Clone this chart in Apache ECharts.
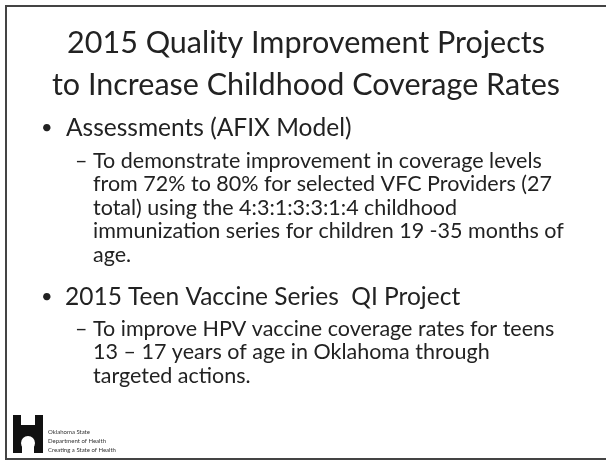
<!DOCTYPE html>
<html>
<head>
<meta charset="utf-8">
<script src="https://cdn.jsdelivr.net/npm/echarts@6/dist/echarts.min.js"></script>
<style>
  html, body { margin: 0; padding: 0; background: #fff; }
  #slide { width: 606px; height: 461px; }
</style>
</head>
<body>
<div id="slide"></div>
<script>
// slide text
const titleLines = [
  '2015 Quality Improvement Projects',
  'to Increase Childhood Coverage Rates'
];
const bulletHeads = [
  'Assessments (AFIX Model)',
  '2015 Teen Vaccine Series  QI Project'
];
const bullet1Lines = [
  '\u2013 To demonstrate improvement in coverage levels',
  'from 72% to 80% for selected VFC Providers (27',
  'total) using the 4:3:1:3:3:1:4 childhood',
  'immunization series for children 19 -35 months of',
  'age.'
];
const bullet2Lines = [
  '\u2013 To improve HPV vaccine coverage rates for teens',
  '13 \u2013 17 years of age in Oklahoma through',
  'targeted actions.'
];
const logoLines = ['Oklahoma State', 'Department of Health', 'Creating a State of Health'];

const FONT = 'Lato, "Open Sans", sans-serif';
const INK = '#222';

// 幻灯片实例
const chartInstance = echarts.init(document.getElementById('slide'));

function txt(x, y, text, size, color, align) {
  return {
    type: 'text',
    x: x,
    y: y,
    style: {
      text: text,
      fontFamily: FONT,
      fontSize: size,
      fill: color,
      align: align || 'left',
      verticalAlign: 'middle'
    }
  };
}

const elements = [];

// frame: top, left, bottom
elements.push({ type: 'line', shape: { x1: 5, y1: 6, x2: 606, y2: 6 }, style: { stroke: '#444', lineWidth: 2 } });
elements.push({ type: 'line', shape: { x1: 6, y1: 5, x2: 6, y2: 460 }, style: { stroke: '#444', lineWidth: 2 } });
elements.push({ type: 'line', shape: { x1: 5, y1: 459, x2: 606, y2: 459 }, style: { stroke: '#444', lineWidth: 2 } });

// title
titleLines.forEach(function (line, i) {
  elements.push(txt(306, 43.5 + i * 41.5, line, 30.5, INK, 'center'));
});

// bullet 1
elements.push(txt(41, 128, '\u2022', 20, INK));
elements.push(txt(66, 128, bulletHeads[0], 24.5, INK));
bullet1Lines.forEach(function (line, i) {
  elements.push(txt(i === 0 ? 75 : 93, 161 + i * 23.5, line, 21.5, INK));
});

// bullet 2
elements.push(txt(41, 297, '\u2022', 20, INK));
elements.push(txt(65, 297, bulletHeads[1], 24.5, INK));
bullet2Lines.forEach(function (line, i) {
  elements.push(txt(i === 0 ? 75 : 93, 329 + i * 23.5, line, 21.5, INK));
});

// logo
elements.push({ type: 'rect', shape: { x: 13, y: 415, width: 30, height: 38 }, style: { fill: '#111' } });
elements.push({ type: 'rect', shape: { x: 21, y: 414, width: 14, height: 11 }, style: { fill: '#fff' } });
elements.push({ type: 'circle', shape: { cx: 28, cy: 443, r: 7 }, style: { fill: '#fff' } });
elements.push({ type: 'rect', shape: { x: 22, y: 444, width: 12, height: 9 }, style: { fill: '#fff' } });
elements.push({ type: 'circle', shape: { cx: 28, cy: 434, r: 2 }, style: { fill: '#111' } });
logoLines.forEach(function (line, i) {
  elements.push(txt(48, 432 + i * 9, line, 6, '#333'));
});

chartInstance.setOption({
  backgroundColor: '#fff',
  animation: false,
  graphic: { elements: elements }
});
</script>
</body>
</html>
